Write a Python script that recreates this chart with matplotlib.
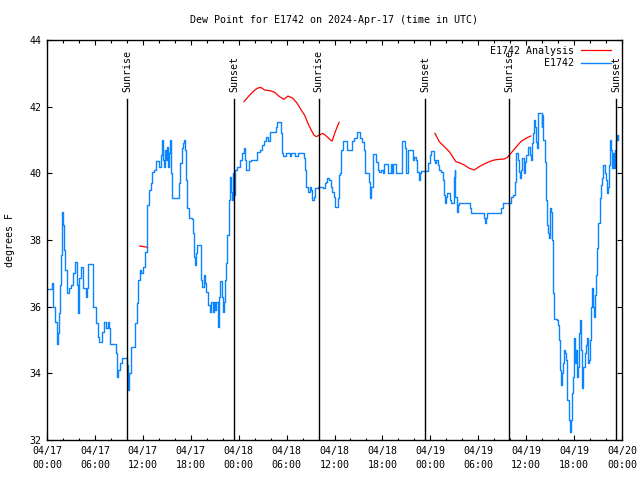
import numpy as np
import matplotlib
matplotlib.use("Agg")
import matplotlib.pyplot as plt

# hours since 2024-04-17 00:00 UTC and dew point (F) for station E1742
obs_hours = [0.17, 0.67, 0.79, 1.0, 1.2, 1.33, 1.5, 1.6, 1.75, 1.83, 1.92, 2.04, 2.12, 2.25, 2.46, 2.75,
             3.0, 3.29, 3.5, 3.71, 3.92, 4.04, 4.2, 4.46, 4.67, 4.83, 4.96, 5.17, 5.46, 5.71, 5.92,
             6.08, 6.33, 6.54, 6.75, 6.92, 7.17, 7.37, 7.58, 7.75, 7.88, 8.42, 8.58, 8.71, 8.92,
             9.12, 9.33, 9.96, 10.04, 10.17, 10.29, 10.5, 11.0, 11.08, 11.29, 11.42, 11.62, 11.83,
             12.04, 12.25, 12.54, 12.58, 12.75, 12.96, 13.17, 13.42, 13.67, 13.92, 14.08, 14.25,
             14.38, 14.5, 14.62, 14.75, 14.88, 15.04, 15.17, 15.29, 15.46, 15.58, 15.67, 16.42,
             16.5, 16.71, 16.92, 17.04, 17.17, 17.25, 17.38, 17.54, 17.75, 18.17, 18.29, 18.38,
             18.5, 18.62, 18.83, 19.12, 19.25, 19.33, 19.46, 19.62, 19.75, 19.96, 20.17, 20.38,
             20.58, 20.79, 20.92, 21.08, 21.21, 21.42, 21.54, 21.71, 21.92, 22.04, 22.17, 22.33,
             22.46, 22.58, 22.79, 22.88, 23.0, 23.17, 23.29, 23.42, 23.58, 23.83, 24.12, 24.2,
             24.42, 24.62, 24.75, 24.96, 25.08, 25.29, 25.5, 26.2, 26.33, 26.7, 26.96, 27.17,
             27.33, 27.46, 27.67, 27.88, 28.5, 28.71, 28.83, 29.12, 29.25, 29.42, 29.54, 29.96,
             30.38, 30.58, 31.0, 31.42, 31.96, 32.17, 32.33, 32.46, 32.67, 32.88, 33.08, 33.21,
             33.38, 33.62, 33.92, 34.33, 34.54, 34.75, 34.96, 35.08, 35.25, 35.5, 35.67, 35.88,
             36.08, 36.33, 36.42, 36.54, 36.71, 36.83, 37.04, 37.33, 37.54, 38.0, 38.21, 38.5,
             38.79, 39.04, 39.21, 39.46, 39.67, 39.83, 40.29, 40.38, 40.5, 40.62, 40.79, 41.08,
             41.21, 41.42, 41.62, 41.83, 42.04, 42.25, 42.54, 42.67, 43.08, 43.21, 43.38, 43.58,
             43.71, 44.33, 44.46, 44.75, 44.88, 44.96, 45.17, 45.71, 45.88, 46.0, 46.2, 46.33,
             46.54, 46.67, 46.83, 47.46, 47.67, 47.96, 48.08, 48.29, 48.42, 48.54, 48.67, 48.92,
             49.12, 49.33, 49.54, 49.67, 49.79, 49.92, 50.04, 50.29, 50.46, 50.62, 50.79, 50.92,
             51.04, 51.12, 51.29, 51.42, 51.54, 52.79, 52.96, 53.08, 54.62, 54.75, 54.83, 54.96,
             55.08, 56.62, 56.83, 57.04, 57.88, 58.08, 58.29, 58.5, 58.62, 58.71, 58.92, 59.04,
             59.21, 59.33, 59.54, 59.67, 59.88, 60.04, 60.25, 60.46, 60.58, 60.71, 60.88, 61.0,
             61.12, 61.21, 61.33, 61.42, 61.54, 61.83, 61.92, 62.04, 62.12, 62.33, 62.46, 62.58,
             62.71, 62.88, 62.96, 63.12, 63.29, 63.42, 63.54, 63.83, 64.0, 64.12, 64.25, 64.33,
             64.46, 64.62, 64.75, 64.88, 65.04, 65.17, 65.38, 65.5, 65.67, 65.79, 65.92, 66.04,
             66.12, 66.2, 66.33, 66.46, 66.62, 66.75, 66.88, 67.04, 67.17, 67.33, 67.46, 67.58,
             67.71, 67.88, 68.0, 68.17, 68.29, 68.42, 68.54, 68.62, 68.79, 68.92, 69.04, 69.21,
             69.33, 69.54, 69.67, 69.83, 69.96, 70.08, 70.2, 70.33, 70.46, 70.54, 70.67, 70.79,
             70.92, 71.04, 71.17, 71.29, 71.42, 71.54]
obs_dewp = [36.52, 36.7, 36.0, 35.55, 34.88, 35.2, 35.8, 36.65, 37.55, 38.45, 38.85, 38.45, 37.7, 37.1, 36.4, 36.55,
            36.65, 37.0, 37.35, 36.65, 35.8, 36.85, 37.2, 36.55, 36.55, 36.3, 36.55, 37.28, 37.28, 35.98, 35.98,
            35.5, 35.1, 34.95, 34.95, 35.25, 35.55, 35.35, 35.55, 35.35, 34.88, 34.88, 34.6, 33.9, 34.1,
            34.3, 34.47, 34.47, 34.25, 33.5, 34.0, 34.78, 34.78, 35.5, 36.1, 36.8, 37.1, 37.0,
            37.2, 37.65, 38.3, 39.05, 39.5, 39.7, 40.05, 40.1, 40.38, 40.38, 40.2, 40.55,
            41.0, 40.4, 40.2, 40.7, 40.4, 40.8, 40.2, 40.6, 41.0, 40.0, 39.25, 39.25,
            39.7, 40.3, 40.75, 40.9, 41.0, 40.7, 39.8, 38.95, 38.65, 38.63, 38.2, 37.5,
            37.25, 37.6, 37.85, 37.85, 37.5, 36.8, 36.6, 36.95, 36.7, 36.45, 36.05, 35.85,
            36.15, 35.85, 36.15, 35.9, 36.15, 35.4, 36.3, 36.78, 36.3, 35.85, 36.15, 36.8,
            37.3, 38.15, 39.2, 39.9, 39.45, 39.2, 40.0, 39.35, 40.1, 40.18, 40.18, 40.4,
            40.6, 40.75, 40.4, 40.1, 40.1, 40.37, 40.4, 40.4, 40.65, 40.7, 40.85, 40.97,
            40.97, 41.1, 40.97, 41.25, 41.25, 41.4, 41.55, 41.55, 41.2, 40.6, 40.52, 40.6,
            40.52, 40.6, 40.52, 40.6, 40.6, 40.45, 40.1, 39.6, 39.45, 39.6, 39.5, 39.2,
            39.3, 39.55, 39.6, 39.6, 39.55, 39.7, 39.75, 39.85, 39.8, 39.6, 39.45, 39.3,
            39.0, 39.0, 39.25, 39.95, 40.0, 40.7, 40.98, 40.98, 40.7, 40.7, 40.98, 41.05,
            41.25, 41.25, 41.05, 40.95, 40.7, 40.0, 40.0, 39.75, 39.25, 39.6, 40.58, 40.58,
            40.35, 40.1, 40.05, 40.1, 40.0, 40.28, 40.28, 40.0, 40.28, 40.0, 40.28, 40.28,
            40.0, 40.0, 40.98, 40.98, 40.75, 40.0, 40.7, 40.7, 40.4, 40.5, 40.4, 40.05,
            39.8, 40.0, 40.08, 40.08, 40.3, 40.55, 40.68, 40.68, 40.4, 40.3, 40.4, 40.25,
            40.1, 40.05, 39.8, 39.35, 39.1, 39.3, 39.4, 39.4, 39.2, 39.1, 39.1, 39.9,
            40.1, 39.3, 38.85, 39.05, 39.1, 39.1, 38.95, 38.82, 38.82, 38.65, 38.5, 38.65,
            38.82, 38.82, 38.95, 39.1, 39.1, 39.3, 39.35, 39.35, 39.75, 40.6, 40.4, 40.05,
            39.85, 40.1, 40.45, 40.0, 40.35, 40.55, 40.8, 40.55, 40.4, 40.9, 41.2, 41.6,
            41.4, 40.95, 40.75, 41.2, 41.8, 41.8, 41.4, 41.75, 41.0, 40.35, 39.2, 38.45,
            38.2, 38.05, 38.95, 38.85, 38.0, 36.4, 35.62, 35.6, 35.45, 35.0, 34.1, 33.65,
            34.0, 34.3, 34.7, 34.6, 34.4, 33.2, 32.6, 32.25, 32.6, 33.4, 33.9, 35.05,
            34.3, 34.7, 33.9, 34.2, 35.2, 35.6, 34.7, 33.55, 34.2, 34.6, 34.85, 35.05,
            34.3, 34.4, 35.0, 36.0, 36.55, 36.0, 35.7, 36.35, 36.95, 37.75, 38.5, 39.25,
            39.65, 39.85, 40.25, 40.0, 39.8, 39.4, 39.6, 40.25, 40.75, 41.0, 40.7, 40.15,
            40.6, 40.15, 40.7, 41.0, 41.15, 41.0]

# analysis series, NaN marks the gaps
ana_hours = [11.6, 12.1, 12.6, np.nan,
             24.67, 25.2, 25.8, 26.3, 26.75, 27.25, 28.08, 28.5, 29.12, 29.67, 30.17, 30.79,
             31.33, 31.83, 32.25, 32.67, 33.08, 33.42, 33.71, 34.12, 34.54, 34.96, 35.5, 35.71,
             36.0, 36.29, 36.58, np.nan,
             48.58, 49.12, 49.75, 50.38, 50.79, 51.2, 51.62, 52.25, 52.88, 53.5, 54.12, 54.75,
             55.38, 56.0, 56.62, 57.25, 57.67, 58.08, 58.71, 59.33, 59.96, 60.38, 60.58]
ana_dewp = [37.82, 37.8, 37.78, np.nan,
            42.15, 42.3, 42.45, 42.55, 42.58, 42.5, 42.47, 42.43, 42.3, 42.22, 42.32, 42.25,
            42.1, 41.9, 41.75, 41.5, 41.3, 41.15, 41.1, 41.15, 41.2, 41.12, 41.0, 40.97,
            41.18, 41.37, 41.53, np.nan,
            41.2, 40.95, 40.8, 40.65, 40.5, 40.35, 40.32, 40.25, 40.15, 40.1, 40.2, 40.28,
            40.35, 40.4, 40.42, 40.43, 40.48, 40.6, 40.78, 40.95, 41.05, 41.1, 41.12]

sun_hours = [10.04, 23.42, 34.04, 47.33, 57.9, 71.3]
sun_labels = ["Sunrise", "Sunset", "Sunrise", "Sunset", "Sunrise", "Sunset"]

tick_hours = list(range(0, 73, 6))
tick_labels = ["04/17\n00:00", "04/17\n06:00", "04/17\n12:00", "04/17\n18:00",
               "04/18\n00:00", "04/18\n06:00", "04/18\n12:00", "04/18\n18:00",
               "04/19\n00:00", "04/19\n06:00", "04/19\n12:00", "04/19\n18:00",
               "04/20\n00:00"]

plt.rcParams['font.family'] = ['DejaVu Sans Mono']
fs = 7.2

fig = plt.figure(figsize=(6.4, 4.8), dpi=100)
ax = fig.add_axes([47/640, 40/480, 575/640, 400/480])

ax.plot(ana_hours, ana_dewp, color="#ff0000", lw=0.9, label="E1742 Analysis")
ax.plot(obs_hours, obs_dewp, color="#0a84ff", lw=1.0, drawstyle="steps-post", label="E1742")

for h, s in zip(sun_hours, sun_labels):
    ax.plot([h, h], [32, 42.23], color="black", lw=1.0)
    ax.text(h, 42.44, s, rotation=90, ha="center", va="bottom", fontsize=fs)

ax.set_xlim(0, 72)
ax.set_ylim(32, 44)
ax.set_xticks(tick_hours)
ax.set_xticklabels(tick_labels, fontsize=fs)
for lbl in ax.get_xticklabels():
    lbl.set_linespacing(1.5)
ax.set_xticks(range(0, 73, 2), minor=True)
ax.set_yticks(range(32, 45, 2))
ax.set_yticklabels([str(v) for v in range(32, 45, 2)], fontsize=fs)
ax.tick_params(which="both", direction="in", top=True, right=True, width=0.8)
ax.tick_params(which="major", length=3.3, pad=4)
ax.tick_params(which="minor", length=1.8)
for sp in ax.spines.values():
    sp.set_linewidth(1.0)

ax.set_ylabel("degrees F", fontsize=fs)
ax.yaxis.set_label_coords(-0.056, 0.5)
fig.text(334/640, 1 - 20/480, "Dew Point for E1742 on 2024-Apr-17 (time in UTC)",
         ha="center", va="center", fontsize=fs)

ax.legend(loc="upper right", bbox_to_anchor=(0.988, 0.995), borderaxespad=0,
          markerfirst=False, frameon=False, fontsize=fs, handlelength=3.0,
          handletextpad=0.7, labelspacing=0.25)

fig.savefig("out.png", dpi=100)
